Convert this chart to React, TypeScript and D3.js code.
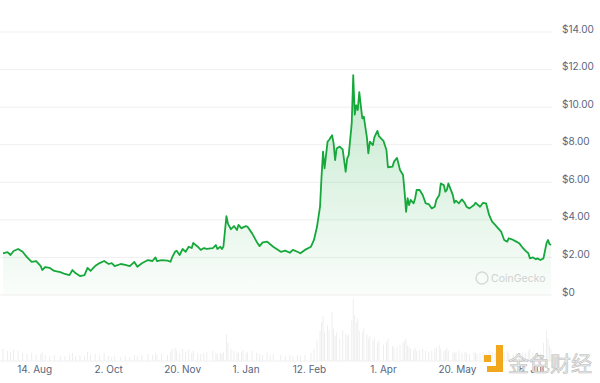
import React from "react";
import * as d3 from "d3";

const dates = [
  "2023-07-24","2023-07-27","2023-07-29","2023-07-31","2023-08-03","2023-08-06","2023-08-09","2023-08-12","2023-08-15","2023-08-18",
  "2023-08-19","2023-08-21","2023-08-24","2023-08-27","2023-08-31","2023-09-03","2023-09-06","2023-09-08","2023-09-10","2023-09-13",
  "2023-09-16","2023-09-18","2023-09-20","2023-09-23","2023-09-26","2023-09-29","2023-10-02","2023-10-04","2023-10-06","2023-10-10",
  "2023-10-13","2023-10-16","2023-10-19","2023-10-21","2023-10-24","2023-10-28","2023-10-31","2023-11-02","2023-11-03","2023-11-06",
  "2023-11-10","2023-11-12","2023-11-13","2023-11-15","2023-11-16","2023-11-18","2023-11-20","2023-11-22","2023-11-24","2023-11-26",
  "2023-11-27","2023-11-30","2023-12-02","2023-12-04","2023-12-06","2023-12-10","2023-12-12","2023-12-13","2023-12-15","2023-12-16",
  "2023-12-17","2023-12-19","2023-12-20","2023-12-22","2023-12-24","2023-12-26","2023-12-27","2023-12-29","2023-12-30","2024-01-01",
  "2024-01-02","2024-01-05","2024-01-08","2024-01-10","2024-01-12","2024-01-15","2024-01-17","2024-01-19","2024-01-24","2024-01-27",
  "2024-01-30","2024-02-01","2024-02-04","2024-02-06","2024-02-09","2024-02-13","2024-02-15","2024-02-17","2024-02-19","2024-02-20",
  "2024-02-21","2024-02-22","2024-02-24","2024-02-25","2024-02-27","2024-02-28","2024-02-29","2024-03-01","2024-03-03","2024-03-05",
  "2024-03-07","2024-03-08","2024-03-09","2024-03-11","2024-03-12","2024-03-13","2024-03-14","2024-03-15","2024-03-16","2024-03-18",
  "2024-03-19","2024-03-21","2024-03-22","2024-03-23","2024-03-25","2024-03-26","2024-03-28","2024-03-29","2024-04-01","2024-04-03",
  "2024-04-04","2024-04-07","2024-04-08","2024-04-10","2024-04-12","2024-04-14","2024-04-15","2024-04-16","2024-04-17","2024-04-18",
  "2024-04-19","2024-04-21","2024-04-22","2024-04-23","2024-04-25","2024-04-27","2024-04-29","2024-05-01","2024-05-03","2024-05-05",
  "2024-05-06","2024-05-08","2024-05-09","2024-05-11","2024-05-12","2024-05-13","2024-05-14","2024-05-17","2024-05-18","2024-05-19",
  "2024-05-21","2024-05-23","2024-05-25","2024-05-26","2024-05-28","2024-05-31","2024-06-01","2024-06-02","2024-06-04","2024-06-06",
  "2024-06-08","2024-06-10","2024-06-12","2024-06-14","2024-06-16","2024-06-18","2024-06-20","2024-06-22","2024-06-23","2024-06-26",
  "2024-06-28","2024-06-30","2024-07-02","2024-07-04","2024-07-06","2024-07-07","2024-07-09","2024-07-11","2024-07-12","2024-07-14",
  "2024-07-16","2024-07-18","2024-07-19","2024-07-20","2024-07-21",
];

const prices = [
  2.22,2.28,2.13,2.34,2.45,2.30,2.00,1.76,1.80,1.54,
  1.33,1.49,1.44,1.28,1.22,1.12,1.06,1.33,1.17,1.01,
  1.06,1.44,1.28,1.54,1.70,1.81,1.65,1.70,1.54,1.65,
  1.60,1.54,1.76,1.50,1.69,1.86,1.81,2.00,1.80,1.86,
  1.83,1.77,2.00,2.30,2.36,2.13,2.45,2.30,2.57,2.50,
  2.77,2.57,2.40,2.50,2.45,2.50,2.66,2.45,2.57,2.45,
  2.57,4.20,3.80,3.50,3.67,3.46,3.73,3.55,3.60,3.67,
  3.63,3.28,2.84,2.60,2.80,2.84,2.70,2.57,2.30,2.36,
  2.25,2.40,2.30,2.22,2.40,2.57,2.93,3.63,4.70,6.30,
  7.63,6.74,8.16,8.25,8.50,8.07,7.18,7.80,7.90,7.75,
  6.56,7.27,7.45,9.14,11.70,9.60,10.10,9.85,10.80,9.40,
  9.49,8.42,7.54,8.16,7.98,8.39,8.74,8.46,8.21,7.72,
  6.80,6.83,7.10,7.30,6.65,6.39,5.50,4.43,5.15,4.79,
  5.06,4.88,5.15,5.59,5.59,5.32,4.88,4.84,4.61,4.70,
  5.06,5.32,5.94,5.85,5.50,5.59,5.94,5.32,4.91,5.02,
  4.88,5.09,4.88,4.70,4.61,4.79,4.91,4.84,4.70,4.91,
  4.88,4.26,3.90,3.73,3.55,3.37,2.93,2.84,3.02,2.93,
  2.84,2.75,2.54,2.36,2.22,1.95,2.00,1.90,1.95,1.86,
  1.95,2.75,2.93,2.71,2.66,
];

const volumes = [
  12,10,9,11,10,8,7,8,6,7,
  9,6,5,6,5,5,6,8,5,6,
  5,9,6,7,6,8,5,4,5,4,
  5,4,6,5,6,7,6,8,6,7,
  6,9,12,13,10,8,12,9,11,8,
  10,8,7,8,9,10,8,7,8,7,
  9,26,18,12,10,9,8,9,11,8,
  9,10,8,7,6,8,6,7,6,5,
  6,5,6,5,6,8,12,20,30,38,
  44,28,35,30,48,32,25,28,22,30,
  27,24,26,40,61,45,38,42,30,28,
  32,26,22,25,20,23,18,20,16,18,
  22,15,13,14,16,18,20,22,15,14,
  12,11,13,10,11,12,10,9,10,12,
  14,16,12,10,11,13,10,9,8,9,
  10,8,9,8,7,9,8,7,8,9,
  8,10,9,8,9,8,9,10,8,7,
  8,7,9,8,10,12,9,8,9,8,
  18,30,22,15,12,
];

const priceTicks = [0, 2, 4, 6, 8, 10, 12, 14];
const dateTicks = ["2023-08-14","2023-10-02","2023-11-20","2024-01-01","2024-02-12","2024-04-01","2024-05-20","2024-07-08"];
const dateTickLabels = ["14. Aug","2. Oct","20. Nov","1. Jan","12. Feb","1. Apr","20. May","8. Jul"];

const W = 600, H = 383;
const parse = d3.timeParse("%Y-%m-%d");

export default function App() {
  const data = dates.map((d, i) => ({ date: parse(d) as Date, price: prices[i], vol: volumes[i] ?? 0 }));
  const x = d3.scaleTime().domain([parse("2023-07-24") as Date, parse("2024-07-21") as Date]).range([3, 551]);
  const y = d3.scaleLinear().domain([0, 14]).range([295, 32]);
  const yv = d3.scaleLinear().domain([0, 60]).range([361, 300]);

  const line = d3.line<any>().x(d => x(d.date)).y(d => y(d.price)).curve(d3.curveLinear);
  const area = d3.area<any>().x(d => x(d.date)).y0(y(0)).y1(d => y(d.price)).curve(d3.curveLinear);

  const font = "Inter, Roboto, 'Noto Sans', sans-serif";
  const labelColor = "#58667e";

  return (
    <svg width={W} height={H} style={{ position: "absolute", left: 0, top: 0, background: "#fff" }}>
      <defs>
        <linearGradient id="fillG" gradientUnits="userSpaceOnUse" x1="0" y1={y(14)} x2="0" y2={y(0)}>
          <stop offset="0%" stopColor="#16a83b" stopOpacity={0.3} />
          <stop offset="100%" stopColor="#16a83b" stopOpacity={0.02} />
        </linearGradient>
      </defs>
      {priceTicks.map(t => (
        <g key={t}>
          <line x1={0} x2={552} y1={y(t)} y2={y(t)} stroke="#efefef" strokeWidth={1} />
          <text x={562} y={y(t) + 0.5} fontFamily={font} fontSize={10} fill={labelColor}>
            {t === 0 ? "$0" : `$${t.toFixed(2)}`}
          </text>
        </g>
      ))}
      {data.map((d, i) => (
        <rect key={i} x={x(d.date) - 0.5} y={yv(d.vol)} width={1} height={yv(0) - yv(d.vol)} fill="#eeeeee" />
      ))}
      <line x1={0} x2={552} y1={361} y2={361} stroke="#f0f0f0" />
      <path d={area(data) || ""} fill="url(#fillG)" />
      <path d={line(data) || ""} fill="none" stroke="#16a83b" strokeWidth={1.8} strokeLinejoin="round" />
      {dateTicks.map((t, i) => (
        <text key={t} x={x(parse(t) as Date)} y={373} textAnchor="middle" fontFamily={font} fontSize={10} fill={labelColor}>
          {dateTickLabels[i]}
        </text>
      ))}
      <g opacity={0.75}>
        <circle cx={482} cy={278} r={6} fill="none" stroke="#cfcfcf" strokeWidth={1.5} />
        <text x={491} y={282} fontFamily={font} fontSize={10.5} fill="#c4c4c4">CoinGecko</text>
      </g>
      <g>
        <rect x={484} y={355} width={7} height={7} fill="#f2a81d" />
        <path d="M496,345 L503,345 L503,372 L487,372 L487,366 L496,366 Z" fill="#f2a81d" />
        <text x={508} y={371} fontFamily="'Noto Sans CJK SC', sans-serif" fontSize={21} fill="#ececec" stroke="#bdbdbd" strokeWidth={0.6}>
          金色财经
        </text>
      </g>
    </svg>
  );
}
